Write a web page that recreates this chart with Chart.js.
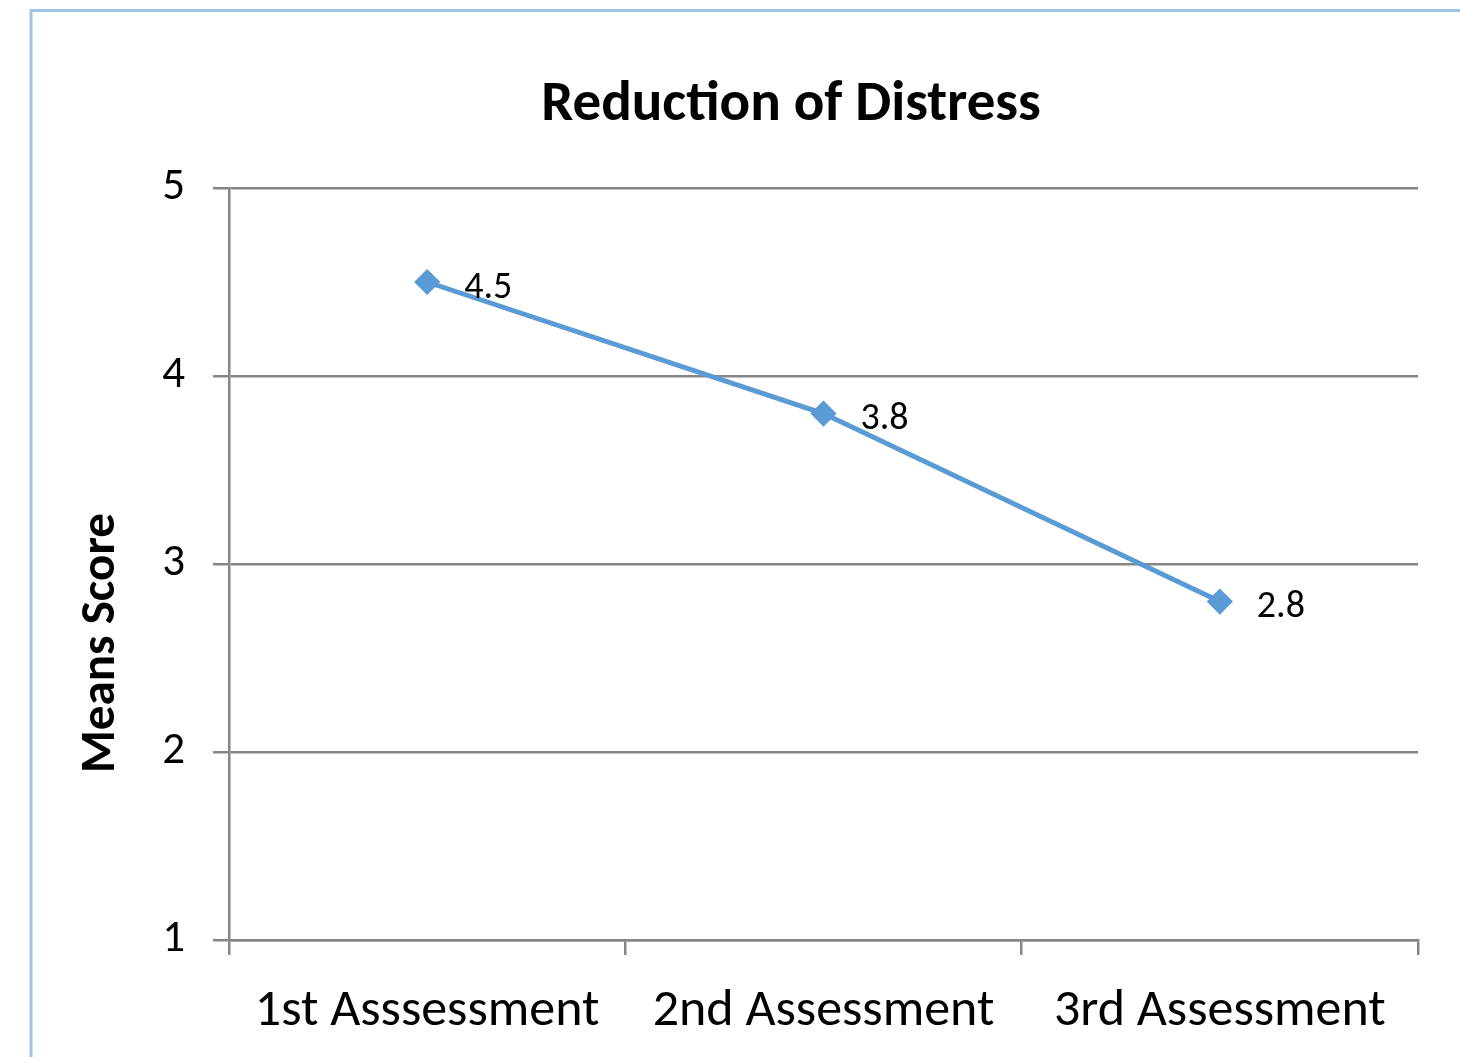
<!DOCTYPE html>
<html>
<head>
<meta charset="utf-8">
<script src="https://cdn.jsdelivr.net/npm/chart.js@4.4.1/dist/chart.umd.min.js"></script>
<style>
  html, body { margin: 0; padding: 0; background: #ffffff; }
  #wrap { position: relative; width: 1460px; height: 1057px; overflow: hidden; }
  canvas { display: block; }
</style>
</head>
<body>
<div id="wrap"><canvas id="c" width="1460" height="1057"></canvas></div>
<script>
// ---- data ----
const categories = ['1st Asssessment', '2nd Assessment', '3rd Assessment'];
const meanScores = [4.5, 3.8, 2.8];
const yTickValues = [1, 2, 3, 4, 5];
const chartTitle = 'Reduction of Distress';
const yAxisTitle = 'Means Score';

const FONT = 'Carlito, Lato, "Noto Sans", sans-serif';
const GRID = '#868686';
const LINE = '#5B9BD5';

const framePlugin = {
  id: 'frame',
  beforeDraw(chart) {
    const ctx = chart.ctx;
    ctx.save();
    ctx.fillStyle = '#ffffff';
    ctx.fillRect(0, 0, chart.width, chart.height);
    ctx.strokeStyle = '#9DC3E6';
    ctx.lineWidth = 3;
    ctx.strokeRect(31, 10.5, 3000, 3000);
    ctx.restore();
  }
};

const textPlugin = {
  id: 'texts',
  afterDatasetsDraw(chart) {
    const ctx = chart.ctx;
    const meta = chart.getDatasetMeta(0);
    ctx.save();
    ctx.font = '38px ' + FONT;
    ctx.fillStyle = '#000000';
    ctx.textAlign = 'left';
    ctx.textBaseline = 'middle';
    meta.data.forEach((pt, i) => {
      ctx.fillText(String(chart.data.datasets[0].data[i]), pt.x + 37, pt.y + 6);
    });
    ctx.restore();
  },
  afterDraw(chart) {
    const ctx = chart.ctx;
    ctx.save();
    ctx.fillStyle = '#000000';
    // chart title
    ctx.font = 'bold 57px ' + FONT;
    ctx.textAlign = 'center';
    ctx.textBaseline = 'alphabetic';
    ctx.fillText(chartTitle, 791, 120);
    // y-axis title
    ctx.font = 'bold 49px ' + FONT;
    ctx.textBaseline = 'middle';
    ctx.translate(102, 643);
    ctx.rotate(-Math.PI / 2);
    ctx.fillText(yAxisTitle, 0, 0);
    ctx.restore();
  }
};

new Chart(document.getElementById('c'), {
  type: 'line',
  data: {
    labels: categories,
    datasets: [{
      data: meanScores,
      borderColor: LINE,
      backgroundColor: LINE,
      borderWidth: 5,
      pointStyle: 'rectRot',
      pointRadius: 11,
      pointBorderWidth: 3,
      pointBorderColor: LINE,
      pointBackgroundColor: LINE,
      tension: 0,
      fill: false
    }]
  },
  options: {
    responsive: false,
    animation: false,
    devicePixelRatio: 1,
    layout: { padding: { left: 0, right: 42, top: 188, bottom: 0 } },
    plugins: {
      legend: { display: false },
      tooltip: { enabled: false },
      title: { display: false }
    },
    scales: {
      x: {
        type: 'category',
        offset: true,
        grid: {
          offset: true,
          drawOnChartArea: false,
          drawTicks: true,
          tickLength: 15,
          color: GRID,
          lineWidth: 2.5
        },
        border: { display: true, color: GRID, width: 2.5 },
        ticks: {
          color: '#000000',
          font: { family: FONT, size: 52 },
          padding: 26,
          maxRotation: 0,
          autoSkip: false
        },
        afterFit(scale) { scale.height = 117; }
      },
      y: {
        min: 1,
        max: 5,
        afterBuildTicks(scale) { scale.ticks = yTickValues.map(v => ({ value: v })); },
        grid: {
          drawOnChartArea: true,
          drawTicks: true,
          tickLength: 16,
          color: GRID,
          lineWidth: 2.5
        },
        border: { display: true, color: GRID, width: 2.5 },
        ticks: {
          color: '#000000',
          font: { family: FONT, size: 45 },
          padding: 28
        },
        afterFit(scale) { scale.width = 229; }
      }
    }
  },
  plugins: [framePlugin, textPlugin]
});
</script>
</body>
</html>
